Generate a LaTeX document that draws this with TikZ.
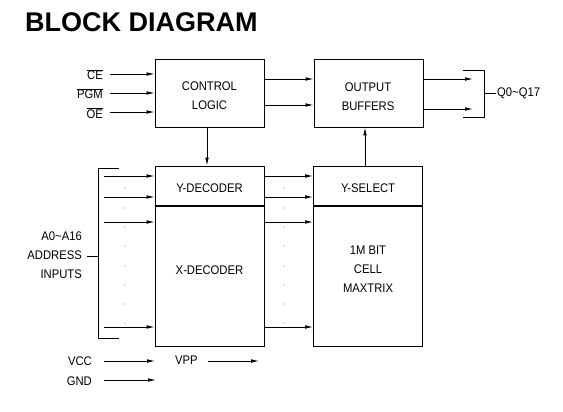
\documentclass[tikz,border=0pt]{standalone}
\usepackage{fontspec}
\setmainfont{Liberation Sans}
\newfontfamily\narrowfont[FakeStretch=0.9]{Liberation Sans}
\usetikzlibrary{arrows.meta}
\tikzstyle{block} = [draw, line width=0.8pt, inner sep=0pt]
\tikzstyle{txt} = [inner sep=0pt, align=center, font=\narrowfont\fontsize{12.5}{19}\selectfont]
\tikzstyle{line} = [draw, line width=0.8pt]
\tikzstyle{arr} = [draw, line width=0.8pt, -{Latex[length=8pt,width=3.6pt]}]
\tikzstyle{bar} = [draw, line width=2.7pt]
\tikzstyle{dot} = [circle, fill=black!45, inner sep=0.5pt]

\begin{document}
\begin{tikzpicture}[x=1pt, y=-1pt]
\useasboundingbox (0,0) rectangle (563,412);

\node [anchor=base west, inner sep=0pt, font=\fontsize{27}{30}\selectfont\bfseries] (title) at (25,32) {BLOCK DIAGRAM};

% blocks
\node [block, minimum width=109, minimum height=68] (ctrl) at (209.5,93) {};
\node [block, minimum width=109, minimum height=68] (outbuf) at (368.5,93) {};
\node [block, minimum width=109, minimum height=180] (xdec) at (209.5,256) {};
\node [block, minimum width=109, minimum height=180] (cell) at (368,256) {};
\path [bar] (xdec.west |- 0,206) -- (xdec.east |- 0,206);
\path [bar] (cell.west |- 0,206) -- (cell.east |- 0,206);

\node [txt] (ctrltxt) at (209.5,96) {CONTROL\\LOGIC};
\node [txt] (outtxt) at (368,96.5) {OUTPUT\\BUFFERS};
\node [txt] (ydec) at (209.5,188) {Y-DECODER};
\node [txt] (xdectxt) at (209.5,270) {X-DECODER};
\node [txt] (ysel) at (368,188) {Y-SELECT};
\node [txt] (celltxt) at (368,269) {1M BIT\\CELL\\MAXTRIX};

% control inputs
\node [txt, anchor=base east] (ce) at (103,80) {$\overline{\mbox{CE}}$};
\node [txt, anchor=base east] (pgm) at (103,99) {$\overline{\mbox{PGM}}$};
\node [txt, anchor=base east] (oe) at (103,118) {$\overline{\mbox{OE}}$};
\coordinate (cein) at (110,74);
\coordinate (pgmin) at (110,93);
\coordinate (oein) at (110,112);
\path [arr] (cein) -- (cein -| ctrl.west);
\path [arr] (pgmin) -- (pgmin -| ctrl.west);
\path [arr] (oein) -- (oein -| ctrl.west);

\path [arr] (ctrl.east |- 0,79) -- (outbuf.west |- 0,79);
\path [arr] (ctrl.east |- 0,105) -- (outbuf.west |- 0,105);
\path [arr] (ctrl.south -| 207,0) -- (xdec.north -| 207,0);
\path [arr] (cell.north -| 365,0) -- (outbuf.south -| 365,0);

% outputs
\coordinate (q1) at (473,79);
\coordinate (q2) at (473,109);
\path [arr] (outbuf.east |- q1) -- (q1);
\path [arr] (outbuf.east |- q2) -- (q2);
\coordinate (qt) at (463,70);
\coordinate (qb) at (463,117);
\coordinate (qm) at (484,93);
\path [line] (qt) -- (qt -| qm) -- (qb -| qm) -- (qb);
\node [txt, anchor=west, inner xsep=1pt] (q) at (qm) {\hspace{12pt}Q0\textasciitilde Q17};
\path [line] (qm) -- ([xshift=12pt]qm);

% address inputs
\coordinate (at) at (119,168);
\coordinate (ab) at (119,338);
\coordinate (am) at (98,256);
\path [line] (at) -- (at -| am) -- (ab -| am) -- (ab);
\node [txt, align=right, anchor=east, inner xsep=5pt] (addr) at (87,255.5) {A0\textasciitilde A16\\ADDRESS\\INPUTS};
\path [line] (am) -- (am -| addr.east);
\foreach \y in {176,197,222,327} {
	\coordinate (a\y) at (104,\y);
	\path [arr] (a\y) -- (a\y -| xdec.west);
	\path [arr] (a\y -| xdec.east) -- (a\y -| cell.west);
}
\foreach \y in {188,208,227,246,266,285,304,323} {
	\node [dot] (dl\y) at (125,\y) {};
	\node [dot] (dr\y) at (284,\y) {};
}

% power
\node [txt, anchor=base east] (vcc) at (92,365) {VCC};
\node [txt, anchor=base east] (gnd) at (92,385) {GND};
\node [txt, anchor=base west] (vpp) at (175,364) {VPP};
\coordinate (vccin) at (104,361);
\coordinate (gndin) at (104,380);
\coordinate (vppin) at (208,361);
\path [arr] (vccin) -- (155,361);
\path [arr] (gndin) -- (156,380);
\path [arr] (vppin) -- (259,361);
\end{tikzpicture}
\end{document}
